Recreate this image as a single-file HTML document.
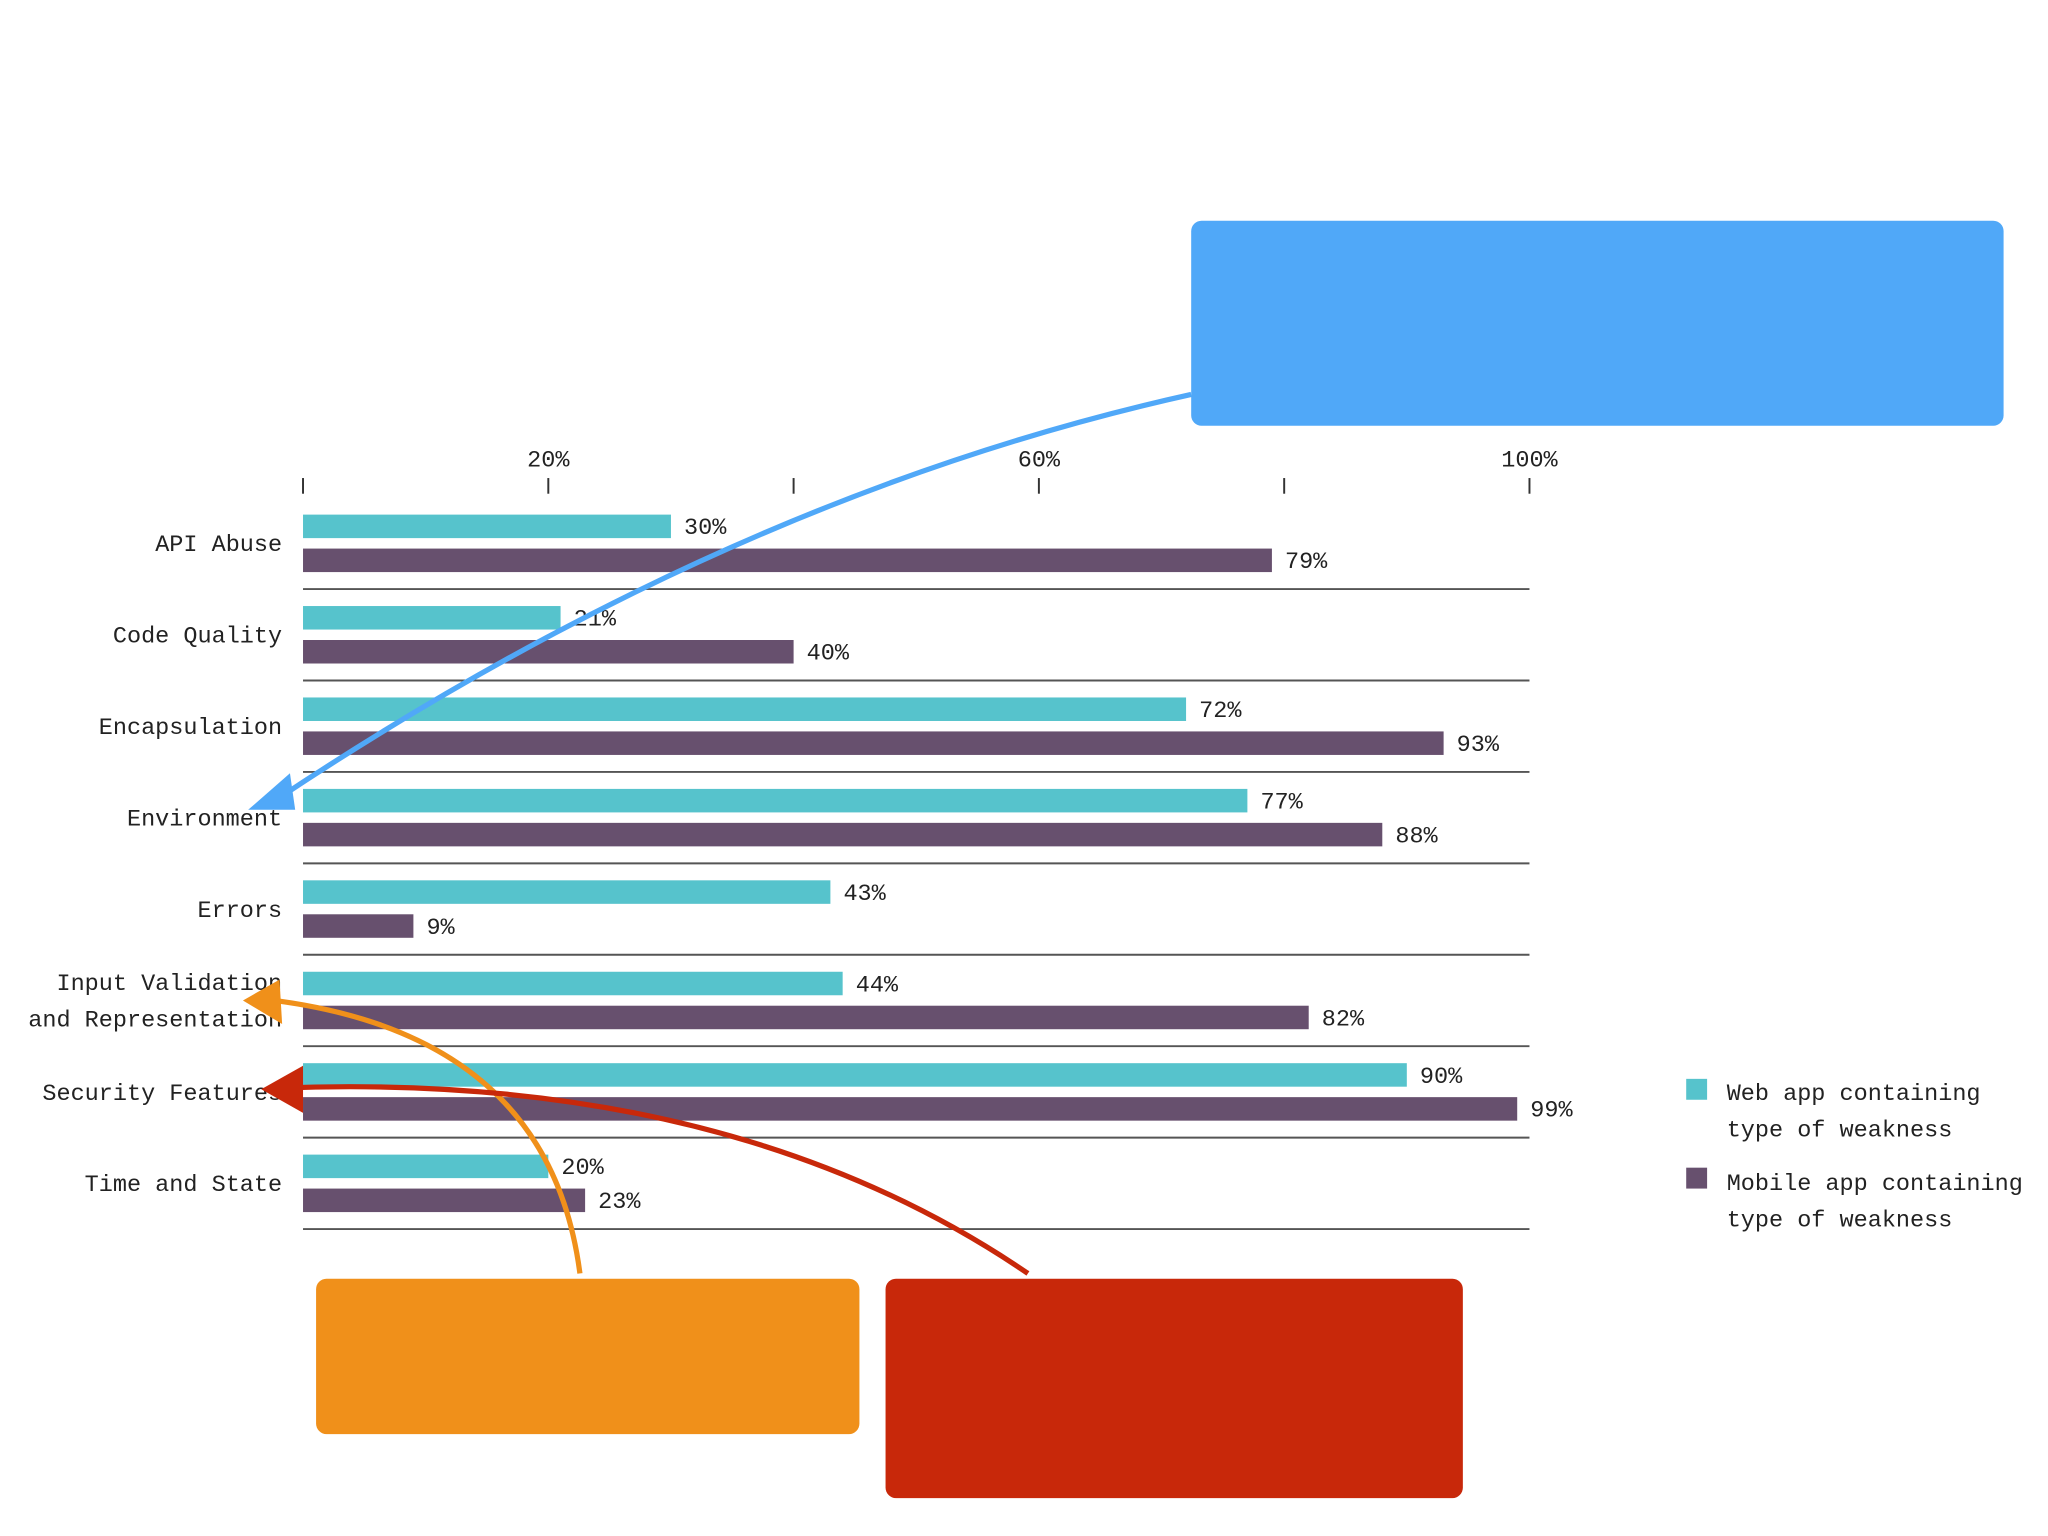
<!DOCTYPE html>
<html><head><meta charset="utf-8"><style>
html,body{margin:0;padding:0;background:#fff;}
svg{display:block;}
text{font-family:"Liberation Mono","DejaVu Sans Mono",monospace;fill:#222;}
</style></head><body>
<svg id="chart" width="2048" height="1536" viewBox="0 0 1568 1176" xmlns="http://www.w3.org/2000/svg">
<g id="axis"></g>
<g id="bars"></g>
<g>
  <rect x="1291" y="826" width="16" height="16" fill="#56c3cc"/>
  <text x="1322" y="842" font-size="18">Web app containing</text>
  <text x="1322" y="870" font-size="18">type of weakness</text>
  <rect x="1291" y="894" width="16" height="16" fill="#67506e"/>
  <text x="1322" y="911" font-size="18">Mobile app containing</text>
  <text x="1322" y="939" font-size="18">type of weakness</text>
</g>
<rect x="912" y="169" width="622" height="157" rx="8" fill="#50a8f8"/>
<rect x="242" y="979" width="416" height="119" rx="8" fill="#f0901a"/>
<rect x="678" y="979" width="442" height="168" rx="8" fill="#c8280a"/>
<path d="M912,302 Q560,380 212,612" fill="none" stroke="#50a8f8" stroke-width="4"/>
<polygon points="190,620 222,592 226,620" fill="#50a8f8"/>
<path d="M444,975 Q420,790 202,765" fill="none" stroke="#f0901a" stroke-width="4"/>
<polygon points="186,766 214,750 216,784" fill="#f0901a"/>
<path d="M787,975 Q560,820 215,833" fill="none" stroke="#c8280a" stroke-width="4"/>
<polygon points="200,834 232,816 232,852" fill="#c8280a"/>
</svg>
<script>
const categories=[["API Abuse"],["Code Quality"],["Encapsulation"],["Environment"],["Errors"],["Input Validation","and Representation"],["Security Features"],["Time and State"]];
const webValues=[30,21,72,77,43,44,90,20];
const mobileValues=[79,40,93,88,9,82,99,23];
const tickValues=[0,20,40,60,80,100];
const tickLabels=["","20%","","60%","","100%"];
const NS="http://www.w3.org/2000/svg";
const x0=232,x1=1171;
function xs(v){return x0+(x1-x0)*v/100;}
function rowY(i){return 394+70*i;}
function mk(tag,attrs,parent,txt){const e=document.createElementNS(NS,tag);for(const k in attrs)e.setAttribute(k,attrs[k]);if(txt!==undefined)e.textContent=txt;parent.appendChild(e);return e;}
const axis=document.getElementById('axis'),bars=document.getElementById('bars');
tickValues.forEach((v,i)=>{
  const t=mk('line',{x1:xs(v),x2:xs(v),y1:366,y2:378,stroke:'#333','stroke-width':1.5},axis);
  
  
  if(tickLabels[i]){const l=mk('text',{x:xs(v),y:357,'font-size':18,'text-anchor':'middle'},axis,tickLabels[i]);
    
    }
});
categories.forEach((c,i)=>{
  const y=rowY(i);
  const w=mk('rect',{x:x0,y:y,width:xs(webValues[i])-x0,height:18,fill:'#56c3cc'},bars);
  
  
  const wl=mk('text',{x:xs(webValues[i])+10,y:y+15,'font-size':18},bars,webValues[i]+'%');
  
  
  const m=mk('rect',{x:x0,y:y+26,width:xs(mobileValues[i])-x0,height:18,fill:'#67506e'},bars);
  
  
  const ml=mk('text',{x:xs(mobileValues[i])+10,y:y+41,'font-size':18},bars,mobileValues[i]+'%');
  
  
  const s=mk('line',{x1:x0,x2:x1,y1:y+57,y2:y+57,stroke:'#555','stroke-width':1.5},bars);
  
  
  const cy=y+28;
  c.forEach((line,j)=>{
    const ty=c.length===1?cy:cy-14+j*28;
    const t=mk('text',{x:216,y:ty,'font-size':18,'text-anchor':'end'},bars,line);
    
    
  });
});
</script>
</body></html>
